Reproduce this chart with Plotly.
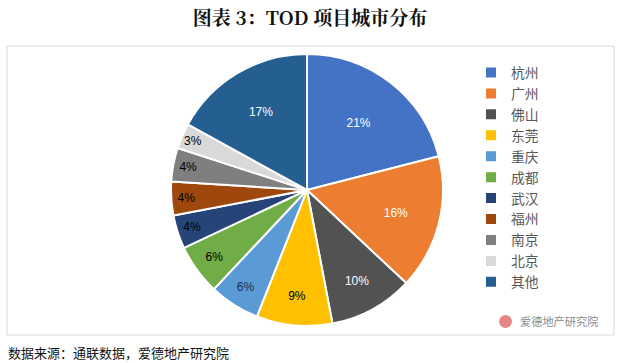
import plotly.graph_objects as go

cities = ["杭州", "广州", "佛山", "东莞", "重庆", "成都", "武汉", "福州", "南京", "北京", "其他"]
shares = [21, 16, 10, 9, 6, 6, 4, 4, 4, 3, 17]
colors = ["#4472C4", "#ED7D31", "#525252", "#FFC000", "#5B9BD5", "#70AD47",
          "#264478", "#9E480E", "#7F7F7F", "#D9D9D9", "#255E91"]
text_colors = ["white", "white", "white", "black", "#1F2D4A", "black",
               "black", "black", "black", "black", "white"]

W, H = 620, 363
cx, cy, r = 307, 190, 136

fig = go.Figure(go.Pie(
    labels=cities,
    values=shares,
    sort=False,
    direction="clockwise",
    rotation=0,
    marker=dict(colors=colors, line=dict(color="white", width=2)),
    textinfo="percent",
    texttemplate="%{percent:.0%}",
    textposition="inside",
    insidetextorientation="horizontal",
    insidetextfont=dict(family="Liberation Sans, Arial, sans-serif", size=12, color=text_colors),
    domain=dict(x=[(cx - r) / W, (cx + r) / W], y=[1 - (cy + r) / H, 1 - (cy - r) / H]),
    hoverinfo="label+percent",
))

fig.update_layout(
    width=W, height=H,
    margin=dict(l=0, r=0, t=0, b=0),
    paper_bgcolor="white",
    showlegend=True,
    legend=dict(
        x=471 / W, y=1 - 57 / H, xanchor="left", yanchor="top",
        font=dict(family="Noto Sans CJK SC, sans-serif", size=13.8, color="#595959"),
        bgcolor="rgba(0,0,0,0)",
    ),
    title=dict(
        text="<b>图表 3：TOD 项目城市分布</b>",
        x=0.5, xanchor="center", y=1 - 18 / H, yanchor="middle",
        font=dict(family="Noto Serif CJK SC, Noto Sans CJK SC, serif", size=19, color="#111111"),
    ),
    shapes=[
        dict(type="rect", xref="paper", yref="paper",
             x0=7 / W, x1=614 / W, y0=1 - 335 / H, y1=1 - 46 / H,
             line=dict(color="#D9D9D9", width=1), fillcolor="rgba(0,0,0,0)", layer="below"),
        dict(type="circle", xref="paper", yref="paper",
             x0=499 / W, x1=512 / W, y0=1 - 328 / H, y1=1 - 315 / H,
             line=dict(width=0), fillcolor="#E58585"),
    ],
    annotations=[
        dict(text="爱德地产研究院", xref="paper", yref="paper", x=518 / W, y=1 - 321 / H,
             xanchor="left", yanchor="middle", showarrow=False,
             font=dict(family="Noto Sans CJK SC, sans-serif", size=11.2, color="#8C8C8C")),
        dict(text="数据来源：通联数据，爱德地产研究院", xref="paper", yref="paper", x=6 / W, y=1 - 352 / H,
             xanchor="left", yanchor="middle", showarrow=False,
             font=dict(family="Noto Sans CJK SC, sans-serif", size=13, color="#111111")),
    ],
)

fig.write_html(
    "out.html",
    config={"displayModeBar": False},
    post_script="document.body.style.margin='0';document.body.style.overflow='hidden';",
)
